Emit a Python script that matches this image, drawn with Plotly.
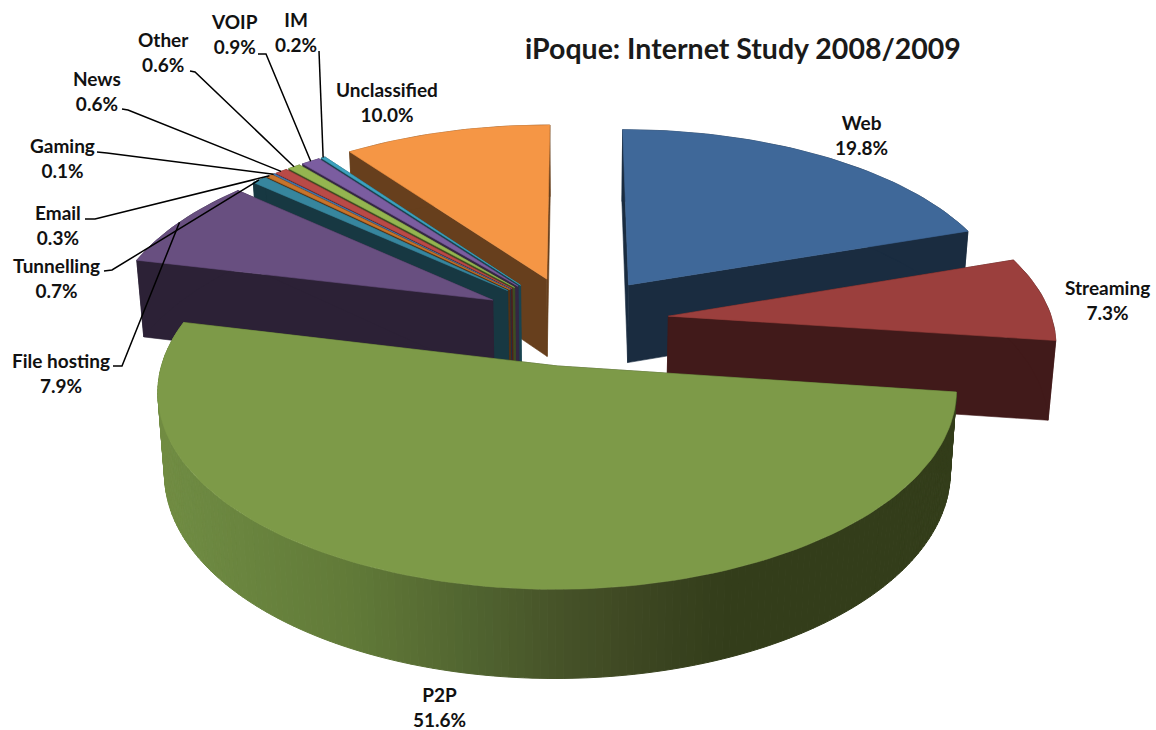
import math
import plotly.graph_objects as go

# ---- data, clockwise from the top of the pie ----
categories = ["Web", "Streaming", "P2P", "File hosting", "Tunnelling", "Email",
              "Gaming", "News", "Other", "VOIP", "IM", "Unclassified"]
shares = [19.8, 7.3, 51.6, 7.9, 0.7, 0.3, 0.1, 0.6, 0.6, 0.9, 0.2, 10.0]
top_colors = ["#3F6899", "#9B3F3D", "#7D9A48", "#684F80", "#37869E", "#C8742B",
              "#4674AB", "#B94A47", "#94B550", "#7B5DA0", "#3CA2BF", "#F59645"]
title_text = "iPoque: Internet Study 2008/2009"

# ---- projection of the exploded 3D pie ----
CX, CY, RX, RY, PERSP = 575.0, 320.5, 384.0, 183.0, 0.125
EXPLODE = 0.245
DEPTH = 79.0
BOTTOM_SHRINK = 0.984
SIDE_FACTOR = 0.42

# label centres and leader elbows in pixels
label_pos = {"Web": (861, 135), "Streaming": (1107, 300), "P2P": (439, 707),
             "File hosting": (61, 373), "Tunnelling": (56, 278), "Email": (58, 225),
             "Gaming": (62, 158), "News": (97, 91), "Other": (163, 52),
             "VOIP": (234, 34), "IM": (296, 32), "Unclassified": (387, 102)}
leader_start = {"File hosting": [(113, 366), (122, 366)], "Tunnelling": [(104, 271), (112, 270)],
                "Email": [(85, 219), (95, 219)], "Gaming": [(97, 152), (107, 153)],
                "News": [(122, 109), (128, 110)], "Other": [(190, 71), (195, 72)],
                "VOIP": [(258, 54), (266, 54)], "IM": [(319, 51)]}

# P2P outer wall shading: (screen x, colour)
rim_stops = [(157, (113, 140, 66)), (183, (110, 138, 66)), (350, (97, 122, 56)),
             (483, (79, 98, 47)), (563, (70, 82, 40)), (660, (58, 68, 32)),
             (727, (51, 61, 26)), (960, (51, 61, 26))]


def hex_rgb(h):
    return tuple(int(h[i:i + 2], 16) for i in (1, 3, 5))


def rgb(c):
    return "rgb(%d,%d,%d)" % tuple(round(v) for v in c)


def project(xd, yd, bottom=False):
    p = 1.0 / (1.0 + PERSP * yd)
    x = RX * xd * p
    y = -RY * yd * p
    if bottom:
        return CX + x * BOTTOM_SHRINK, CY + y * BOTTOM_SHRINK + DEPTH * p
    return CX + x, CY + y


def disk(theta_deg, mid_deg, radius=1.0):
    t, m = math.radians(theta_deg), math.radians(mid_deg)
    return EXPLODE * math.sin(m) + radius * math.sin(t), EXPLODE * math.cos(m) + radius * math.cos(t)


def arc(a0, a1, mid, bottom=False):
    n = max(2, int(abs(a1 - a0) / 1.5) + 2)
    return [project(*disk(a0 + (a1 - a0) * i / (n - 1), mid), bottom) for i in range(n)]


fig = go.Figure()


def poly(pts, color, name, width=0.6):
    xs = [p[0] for p in pts] + [pts[0][0]]
    ys = [p[1] for p in pts] + [pts[0][1]]
    fig.add_trace(go.Scatter(x=xs, y=ys, mode="lines", fill="toself", fillcolor=color,
                             line=dict(color=color, width=width), hoverinfo="text",
                             text=name, showlegend=False))


def rim_color(x):
    for (x0, c0), (x1, c1) in zip(rim_stops, rim_stops[1:]):
        if x0 <= x <= x1:
            f = (x - x0) / (x1 - x0)
            return tuple(u + (v - u) * f for u, v in zip(c0, c1))
    return rim_stops[0][1] if x < rim_stops[0][0] else rim_stops[-1][1]


# angular extents
bounds = {}
start = 0.0
for cat, v in zip(categories, shares):
    sweep = v * 3.6
    bounds[cat] = (start, start + sweep)
    start += sweep

colors = dict(zip(categories, top_colors))
draw_order = ["Unclassified", "IM", "VOIP", "Other", "News", "Gaming", "Email", "Tunnelling",
              "File hosting", "Web", "Streaming", "P2P"]

for cat in draw_order:
    a0, a1 = bounds[cat]
    mid = (a0 + a1) / 2
    base = hex_rgb(colors[cat])
    side = rgb([c * SIDE_FACTOR for c in base])
    apex_t = project(*disk(a0, mid, 0.0))
    apex_b = project(*disk(a0, mid, 0.0), True)
    # cut faces
    poly([apex_t, project(*disk(a0, mid)), project(*disk(a0, mid), True), apex_b], side, cat)
    poly([apex_t, project(*disk(a1, mid)), project(*disk(a1, mid), True), apex_b], side, cat)
    # outer wall
    if cat == "P2P":
        steps = int(a1 - a0)
        for i in range(steps):
            u0 = a0 + (a1 - a0) * i / steps
            u1 = a0 + (a1 - a0) * (i + 1) / steps
            xm = project(*disk((u0 + u1) / 2, mid))[0]
            poly(arc(u0, u1, mid) + arc(u1, u0, mid, True), rgb(rim_color(xm)), cat, 1.0)
    else:
        poly(arc(a0, a1, mid) + arc(a1, a0, mid, True), side, cat)
    # top
    poly([apex_t] + arc(a0, a1, mid), colors[cat], cat)

# leaders and labels
for cat, v in zip(categories, shares):
    a0, a1 = bounds[cat]
    mid = (a0 + a1) / 2
    if cat in leader_start:
        end = project(*disk(mid, mid, 1.0))
        pts = leader_start[cat] + [end]
        fig.add_trace(go.Scatter(x=[p[0] for p in pts], y=[p[1] for p in pts], mode="lines",
                                 line=dict(color="#000000", width=1.5), hoverinfo="skip",
                                 showlegend=False))
    lx, ly = label_pos[cat]
    fig.add_annotation(x=lx, y=ly, xref="x", yref="y", text=f"{cat}<br>{v:.1f}%", showarrow=False,
                       font=dict(family="Lato", size=19, color="#111111", weight="bold"),
                       align="center", xanchor="center", yanchor="middle")

fig.add_annotation(x=743, y=48, xref="x", yref="y", text=title_text, showarrow=False,
                   font=dict(family="Lato", size=28.5, color="#1a1a1a", weight="bold"),
                   xanchor="center", yanchor="middle")

fig.update_layout(width=1156, height=730, margin=dict(l=0, r=0, t=0, b=0),
                  paper_bgcolor="white", plot_bgcolor="white", showlegend=False,
                  xaxis=dict(range=[0, 1156], visible=False, fixedrange=True),
                  yaxis=dict(range=[730, 0], visible=False, fixedrange=True))
fig.write_html("out.html", config={"displayModeBar": False},
               post_script="document.body.style.margin='0';document.documentElement.style.overflow='hidden';")
